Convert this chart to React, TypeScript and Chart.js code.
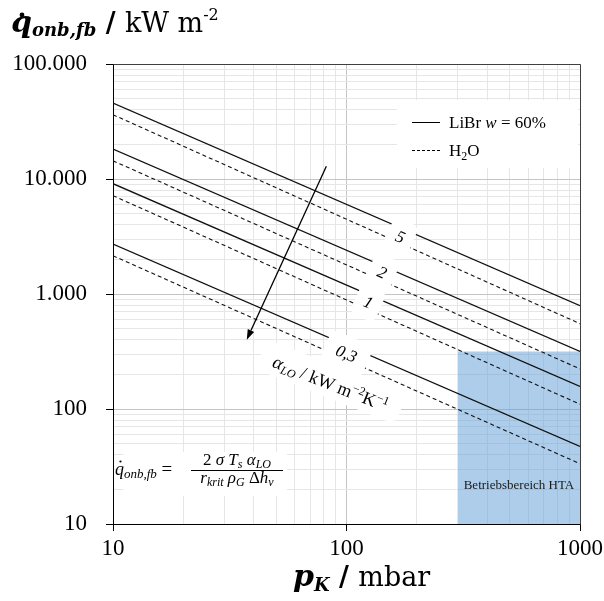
import React, { useEffect, useRef } from 'react';
import { Chart, registerables } from 'chart.js';

Chart.register(...registerables);

// ---------- data ----------
const pressure = [10, 1000]; // mbar
const liBr5 = [45800, 791];
const liBr2 = [18200, 317];
const liBr1 = [9100, 157];
const liBr03 = [2720, 47.3];
const h2o5 = [36200, 552];
const h2o2 = [14400, 223];
const h2o1 = [7160, 110];
const h2o03 = [2150, 33.4];

const alphaLabels = ['5', '2', '1', '0,3'];
const alphaLabelP = [170, 142, 124, 100];
const alphaLabelQ = [3130, 1540, 845, 303];

const htaP = [300, 1000];
const htaQ = [316, 316];

const arrowP = [82, 37.4];
const arrowQ = [12900, 401];
const unitLabelP = 85;
const unitLabelQ = 163;

const xTickValues = [10, 20, 30, 40, 50, 60, 70, 80, 90, 100, 200, 300, 400, 500, 600, 700, 800, 900, 1000];
const yTickValues = [
  10, 20, 30, 40, 50, 60, 70, 80, 90,
  100, 200, 300, 400, 500, 600, 700, 800, 900,
  1000, 2000, 3000, 4000, 5000, 6000, 7000, 8000, 9000,
  10000, 20000, 30000, 40000, 50000, 60000, 70000, 80000, 90000,
  100000,
];
const xTickLabels: Record<number, string> = { 10: '10', 100: '100', 1000: '1000' };
const yTickLabels: Record<number, string> = { 10: '10', 100: '100', 1000: '1.000', 10000: '10.000', 100000: '100.000' };

// ---------- styling ----------
const SERIF = '"Liberation Serif", "Times New Roman", serif';
const TSERIF = '"DejaVu Serif", "Liberation Serif", serif';

const isMajor = (v: number) => Math.abs(Math.log10(v) - Math.round(Math.log10(v))) < 1e-6;

type Seg = { t: string; font: string; dy?: number };
function richWidth(ctx: CanvasRenderingContext2D, segs: Seg[]) {
  let w = 0;
  for (const s of segs) {
    ctx.font = s.font;
    w += ctx.measureText(s.t).width;
  }
  return w;
}
function drawRich(ctx: CanvasRenderingContext2D, segs: Seg[], x: number, y: number, align: 'left' | 'center' = 'left') {
  const w = richWidth(ctx, segs);
  let cx = align === 'center' ? x - w / 2 : x;
  ctx.textAlign = 'left';
  ctx.textBaseline = 'alphabetic';
  const starts: number[] = [];
  for (const s of segs) {
    ctx.font = s.font;
    starts.push(cx);
    ctx.fillText(s.t, cx, y + (s.dy || 0));
    cx += ctx.measureText(s.t).width;
  }
  return starts;
}
function roundRect(ctx: CanvasRenderingContext2D, x: number, y: number, w: number, h: number, r: number) {
  ctx.beginPath();
  ctx.moveTo(x + r, y);
  ctx.lineTo(x + w - r, y);
  ctx.quadraticCurveTo(x + w, y, x + w, y + r);
  ctx.lineTo(x + w, y + h - r);
  ctx.quadraticCurveTo(x + w, y + h, x + w - r, y + h);
  ctx.lineTo(x + r, y + h);
  ctx.quadraticCurveTo(x, y + h, x, y + h - r);
  ctx.lineTo(x, y + r);
  ctx.quadraticCurveTo(x, y, x + r, y);
  ctx.closePath();
}

const annotPlugin = {
  id: 'annot',
  afterDatasetsDraw(chart: any) {
    const { ctx, chartArea: ca } = chart;
    const xs = chart.scales.x;
    const ys = chart.scales.y;
    const ang = Math.atan2(
      ys.getPixelForValue(liBr1[1]) - ys.getPixelForValue(liBr1[0]),
      xs.getPixelForValue(pressure[1]) - xs.getPixelForValue(pressure[0])
    );
    ctx.save();

    // frame top & right
    ctx.strokeStyle = '#404040';
    ctx.lineWidth = 1;
    ctx.beginPath();
    ctx.moveTo(Math.round(ca.left) + 0.5, Math.round(ca.top) + 0.5);
    ctx.lineTo(Math.round(ca.right) + 0.5, Math.round(ca.top) + 0.5);
    ctx.lineTo(Math.round(ca.right) + 0.5, Math.round(ca.bottom) + 0.5);
    ctx.stroke();

    // HTA label
    ctx.fillStyle = '#1a1a1a';
    ctx.font = `13px ${SERIF}`;
    ctx.textAlign = 'center';
    ctx.textBaseline = 'alphabetic';
    const hx = (xs.getPixelForValue(htaP[0]) + xs.getPixelForValue(htaP[1])) / 2;
    ctx.fillText('Betriebsbereich HTA', hx, ca.bottom - 35);

    // alpha labels on lines
    for (let i = 0; i < alphaLabels.length; i++) {
      const px = xs.getPixelForValue(alphaLabelP[i]);
      const py = ys.getPixelForValue(alphaLabelQ[i]);
      ctx.save();
      ctx.translate(px, py);
      ctx.rotate(ang);
      ctx.font = `italic 17px ${SERIF}`;
      const w = ctx.measureText(alphaLabels[i]).width;
      const pad = i === 3 ? 12 : 9;
      ctx.fillStyle = '#ffffff';
      roundRect(ctx, -w / 2 - pad, -17, w + 2 * pad, 34, 8);
      ctx.fill();
      ctx.fillStyle = '#000';
      ctx.textAlign = 'center';
      ctx.textBaseline = 'middle';
      ctx.fillText(alphaLabels[i], 0, 1);
      ctx.restore();
    }

    // unit label
    {
      const px = xs.getPixelForValue(unitLabelP);
      const py = ys.getPixelForValue(unitLabelQ);
      ctx.save();
      ctx.translate(px, py);
      ctx.rotate(ang - 0.03);
      const segs: Seg[] = [
        { t: 'α', font: `italic 19px ${SERIF}` },
        { t: 'LO', font: `italic 12px ${SERIF}`, dy: 3 },
        { t: ' / kW m', font: `18px ${SERIF}` },
        { t: '−2', font: `12px ${SERIF}`, dy: -7 },
        { t: 'K', font: `18px ${SERIF}` },
        { t: '−1', font: `12px ${SERIF}`, dy: -7 },
      ];
      const w = richWidth(ctx, segs);
      ctx.fillStyle = '#fff';
      roundRect(ctx, -w / 2 - 14, -19, w + 28, 32, 10);
      ctx.fill();
      ctx.fillStyle = '#000';
      drawRich(ctx, segs, 0, 5, 'center');
      ctx.restore();
    }

    // arrow
    {
      const x0 = xs.getPixelForValue(arrowP[0]);
      const y0 = ys.getPixelForValue(arrowQ[0]);
      const x1 = xs.getPixelForValue(arrowP[1]);
      const y1 = ys.getPixelForValue(arrowQ[1]);
      const a = Math.atan2(y1 - y0, x1 - x0);
      const L = 10;
      const H = 3.5;
      const bx = x1 - L * Math.cos(a);
      const by = y1 - L * Math.sin(a);
      ctx.strokeStyle = '#000';
      ctx.lineWidth = 1.3;
      ctx.beginPath();
      ctx.moveTo(x0, y0);
      ctx.lineTo(bx, by);
      ctx.stroke();
      ctx.fillStyle = '#000';
      ctx.beginPath();
      ctx.moveTo(x1, y1);
      ctx.lineTo(bx + H * Math.sin(a), by - H * Math.cos(a));
      ctx.lineTo(bx - H * Math.sin(a), by + H * Math.cos(a));
      ctx.closePath();
      ctx.fill();
    }

    // legend
    {
      const lx = ca.right - 183;
      const ly = ca.top + 36;
      ctx.fillStyle = '#fff';
      ctx.fillRect(lx, ly, 181, 68);
      ctx.strokeStyle = '#000';
      ctx.lineWidth = 1;
      ctx.beginPath();
      ctx.moveTo(lx + 15, ly + 22.5);
      ctx.lineTo(lx + 43, ly + 22.5);
      ctx.stroke();
      ctx.setLineDash([3, 2]);
      ctx.beginPath();
      ctx.moveTo(lx + 15, ly + 50.5);
      ctx.lineTo(lx + 43, ly + 50.5);
      ctx.stroke();
      ctx.setLineDash([]);
      ctx.fillStyle = '#000';
      drawRich(ctx, [
        { t: 'LiBr ', font: `17px ${SERIF}` },
        { t: 'w', font: `italic 17px ${SERIF}` },
        { t: ' = 60%', font: `17px ${SERIF}` },
      ], lx + 52, ly + 28);
      drawRich(ctx, [
        { t: 'H', font: `17px ${SERIF}` },
        { t: '2', font: `12px ${SERIF}`, dy: 4 },
        { t: 'O', font: `17px ${SERIF}` },
      ], lx + 52, ly + 56);
    }

    // formula
    {
      const fx = ca.left;
      const fy = ca.bottom;
      ctx.fillStyle = '#fff';
      ctx.fillRect(fx + 10, fy - 72, 164, 44);
      ctx.fillStyle = '#000';
      const left: Seg[] = [
        { t: 'q', font: `italic 18px ${SERIF}` },
        { t: 'onb,fb', font: `italic 13px ${SERIF}`, dy: 3 },
        { t: ' = ', font: `19px ${SERIF}` },
      ];
      const st = drawRich(ctx, left, fx + 2, fy - 49);
      // dot on q
      ctx.beginPath();
      ctx.arc(st[0] + 5.5, fy - 49 - 13.5, 1.1, 0, Math.PI * 2);
      ctx.fill();
      const cx = fx + 124;
      ctx.fillRect(fx + 78, fy - 54, 92, 1);
      drawRich(ctx, [
        { t: '2 ', font: `17px ${SERIF}` },
        { t: 'σ ', font: `italic 17px ${SERIF}` },
        { t: 'T', font: `italic 17px ${SERIF}` },
        { t: 's', font: `italic 12px ${SERIF}`, dy: 3 },
        { t: ' α', font: `italic 17px ${SERIF}` },
        { t: 'LO', font: `italic 12px ${SERIF}`, dy: 3 },
      ], cx, fy - 59, 'center');
      drawRich(ctx, [
        { t: 'r', font: `italic 17px ${SERIF}` },
        { t: 'krit', font: `italic 12px ${SERIF}`, dy: 3 },
        { t: ' ρ', font: `italic 17px ${SERIF}` },
        { t: 'G', font: `italic 12px ${SERIF}`, dy: 3 },
        { t: ' Δ', font: `17px ${SERIF}` },
        { t: 'h', font: `italic 17px ${SERIF}` },
        { t: 'v', font: `italic 12px ${SERIF}`, dy: 3 },
      ], cx, fy - 41, 'center');
    }

    ctx.restore();
  },
  afterDraw(chart: any) {
    const { ctx } = chart;
    ctx.save();
    ctx.fillStyle = '#000';
    // y title
    const st = drawRich(ctx, [
      { t: 'q', font: `bold italic 30px ${TSERIF}` },
      { t: 'onb,fb', font: `bold italic 18px ${TSERIF}`, dy: 4 },
      { t: ' / ', font: `bold 27px ${TSERIF}` },
      { t: 'kW m', font: `27px ${TSERIF}` },
      { t: '-2', font: `16px ${TSERIF}`, dy: -12 },
    ], 11, 32);
    ctx.beginPath();
    ctx.arc(st[0] + 11, 15, 2.4, 0, Math.PI * 2);
    ctx.fill();
    // x title
    drawRich(ctx, [
      { t: 'p', font: `bold italic 30px ${TSERIF}` },
      { t: 'K', font: `bold italic 18px ${TSERIF}`, dy: 5 },
      { t: ' / ', font: `bold 27px ${TSERIF}` },
      { t: 'mbar', font: `27px ${TSERIF}` },
    ], 293, 586);
    ctx.restore();
  },
};

const lineDs = (label: string, vals: number[], dashed: boolean) => ({
  label,
  data: pressure.map((p, i) => ({ x: p, y: vals[i] })),
  borderColor: '#111',
  borderWidth: dashed ? 1.1 : 1.3,
  borderDash: dashed ? [4, 3] : [],
  pointRadius: 0,
  fill: false,
  tension: 0,
});

export default function App() {
  const ref = useRef<HTMLCanvasElement | null>(null);
  useEffect(() => {
    if (!ref.current) return;
    const chart = new Chart(ref.current, {
      type: 'line',
      data: {
        datasets: [
          lineDs('LiBr 5', liBr5, false),
          lineDs('H2O 5', h2o5, true),
          lineDs('LiBr 2', liBr2, false),
          lineDs('H2O 2', h2o2, true),
          lineDs('LiBr 1', liBr1, false),
          lineDs('H2O 1', h2o1, true),
          lineDs('LiBr 0,3', liBr03, false),
          lineDs('H2O 0,3', h2o03, true),
          {
            label: 'Betriebsbereich HTA',
            data: htaP.map((p, i) => ({ x: p, y: htaQ[i] })),
            borderWidth: 0,
            borderColor: 'rgba(0,0,0,0)',
            backgroundColor: 'rgba(91,155,213,0.5)',
            pointRadius: 0,
            fill: 'start',
          } as any,
        ],
      },
      options: {
        animation: false,
        responsive: false,
        layout: { padding: { top: 64, right: 24, left: 0, bottom: 0 } },
        plugins: { legend: { display: false }, tooltip: { enabled: false } },
        scales: {
          x: {
            type: 'logarithmic',
            min: 10,
            max: 1000,
            afterBuildTicks: (s: any) => {
              s.ticks = xTickValues.map((v) => ({ value: v }));
            },
            afterFit: (s: any) => {
              s.height = 77;
              s.paddingLeft = 0;
              s.paddingRight = 0;
            },
            ticks: {
              autoSkip: false,
              maxRotation: 0,
              minRotation: 0,
              color: '#000',
              padding: 4,
              font: { family: SERIF, size: 23 },
              callback: (v: any) => xTickLabels[Number(v)] ?? '',
            },
            grid: {
              color: (c: any) => (c.tick && isMajor(c.tick.value) ? '#c4c4c4' : '#e6e6e6'),
              tickColor: (c: any) => (c.tick && isMajor(c.tick.value) ? '#000' : 'rgba(0,0,0,0)'),
              tickLength: 7,
              lineWidth: 1,
            },
            border: { color: '#000', width: 1 },
          },
          y: {
            type: 'logarithmic',
            min: 10,
            max: 100000,
            afterBuildTicks: (s: any) => {
              s.ticks = yTickValues.map((v) => ({ value: v }));
            },
            afterFit: (s: any) => {
              s.width = 113;
              s.paddingTop = 0;
              s.paddingBottom = 0;
            },
            ticks: {
              autoSkip: false,
              color: '#000',
              padding: 19,
              font: { family: SERIF, size: 23 },
              callback: (v: any) => yTickLabels[Number(v)] ?? '',
            },
            grid: {
              color: (c: any) => (c.tick && isMajor(c.tick.value) ? '#c4c4c4' : '#e6e6e6'),
              tickColor: (c: any) => (c.tick && isMajor(c.tick.value) ? '#000' : 'rgba(0,0,0,0)'),
              tickLength: 7,
              lineWidth: 1,
            },
            border: { color: '#000', width: 1 },
          },
        },
      } as any,
      plugins: [annotPlugin],
    });
    return () => chart.destroy();
  }, []);
  return (
    <canvas
      ref={ref}
      width={604}
      height={601}
      style={{ position: 'absolute', left: 0, top: 0, width: 604, height: 601, display: 'block' }}
    />
  );
}
